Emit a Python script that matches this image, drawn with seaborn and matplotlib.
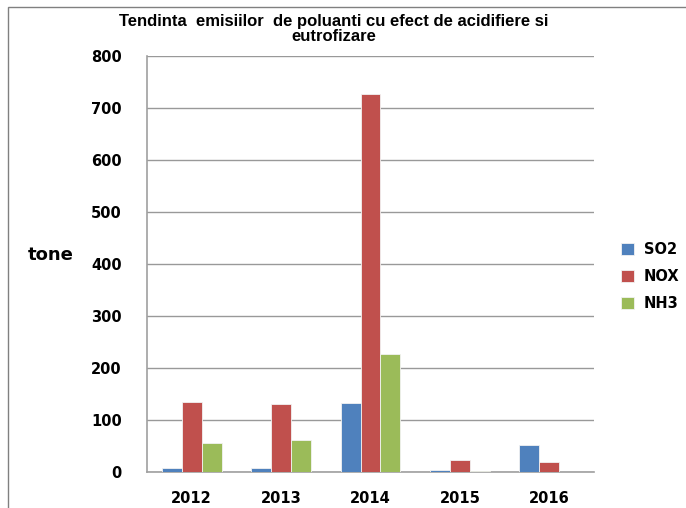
import pandas as pd
import matplotlib.pyplot as plt
import seaborn as sns
from matplotlib.patches import Rectangle

years = ["2012", "2013", "2014", "2015", "2016"]
pollutants = ["SO2", "NOX", "NH3"]
so2 = [7, 7, 133, 4, 52]
nox = [134, 131, 726, 24, 19]
nh3 = [55, 61, 226, 2.5, 0]
colors = ["#4F81BD", "#C0504D", "#9BBB59"]

df = pd.DataFrame({"an": years * 3,
                   "poluant": [p for p in pollutants for _ in years],
                   "tone": so2 + nox + nh3})

sns.set_style("white")
plt.rcParams["font.family"] = ["DejaVu Sans"]
plt.rcParams["text.color"] = "black"

fig = plt.figure(figsize=(6.86, 5.08), dpi=100)
ax = fig.add_axes([147 / 686, 1 - 472 / 508, (594 - 147) / 686, (472 - 56) / 508])

sns.barplot(data=df, x="an", y="tone", hue="poluant", palette=colors, saturation=1,
            width=0.67, gap=0, edgecolor="#f2f2f2", linewidth=0.6, ax=ax, zorder=3)

ax.set_ylim(0, 800)
ax.set_xlim(-0.5, 4.5)
ax.set_yticks(range(0, 801, 100))
ax.yaxis.grid(True, color="#999999", linewidth=1, zorder=0)
ax.set_axisbelow(True)

for s in ["top", "right"]:
    ax.spines[s].set_visible(False)
for s in ["left", "bottom"]:
    ax.spines[s].set_color("#a0a0a0")
    ax.spines[s].set_linewidth(1.2)

# ticks on the category boundaries
ax.set_xticks([i + 0.5 for i in range(-1, 5)], minor=True)
ax.tick_params(axis="x", which="minor", length=6, color="#a0a0a0", direction="out")
ax.tick_params(axis="x", which="major", length=0, pad=14, labelcolor="black")
ax.tick_params(axis="y", length=6, color="#a0a0a0", direction="out", pad=12, labelcolor="black")
ax.set_xticks(range(5))
ax.set_xticklabels(years, fontsize=10.5, fontweight="bold")
for lab in ax.get_yticklabels():
    lab.set_fontsize(10.5)
    lab.set_fontweight("bold")

ax.set_xlabel("")
ax.set_ylabel("tone", rotation=0, fontsize=13, fontweight="bold", labelpad=0, color="black")
ax.yaxis.set_label_coords(-0.215, 0.5)

fig.text(0.487, 0.972, "Tendinta  emisiilor  de poluanti cu efect de acidifiere si\neutrofizare",
         ha="center", va="top", fontsize=12, fontweight="bold",
         family="Liberation Sans", linespacing=1.0, color="black")

leg = ax.legend(title=None, loc="center left", bbox_to_anchor=(1.03, 0.47),
                frameon=False, fontsize=10.5, handlelength=0.9, handleheight=0.9,
                labelspacing=0.8, handletextpad=0.7)
for t in leg.get_texts():
    t.set_fontweight("bold")
    t.set_color("black")

# outer chart frame
fig.patches.append(Rectangle((8 / 686, -0.1), 1.2, 1 - 7 / 508 + 0.1,
                             transform=fig.transFigure, fill=False,
                             edgecolor="#808080", linewidth=1))

fig.savefig("out.png", dpi=100)
